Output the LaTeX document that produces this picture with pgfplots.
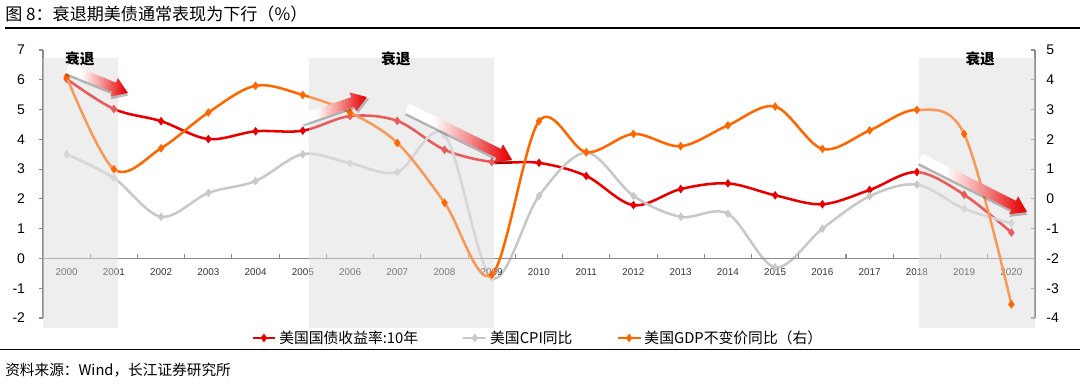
\documentclass[border=0pt]{standalone}
\usepackage{pgfplots}
\pgfplotsset{compat=1.18}
\usepackage{pgfplotstable}
\usepackage{fontspec}
\setmainfont{Liberation Sans}
\newfontfamily\cjk{Noto Sans CJK SC}
\definecolor{cred}{HTML}{E60000}
\definecolor{cgray}{HTML}{C8C8C8}
\definecolor{corange}{HTML}{FF6600}
\definecolor{cshade}{HTML}{EEEEEE}
\definecolor{caxis}{HTML}{8C8C8C}

\pgfplotstableread{
year yield cpi gdp
2000 6.03 3.50 4.10
2001 5.02 2.70 1.00
2002 4.61 1.40 1.70
2003 4.01 2.20 2.90
2004 4.27 2.60 3.80
2005 4.29 3.50 3.49
2006 4.78 3.20 2.90
2007 4.62 2.90 1.88
2008 3.65 4.15 -0.13
2009 3.24 -0.65 -2.55
2010 3.21 2.10 2.61
2011 2.77 3.55 1.57
2012 1.79 2.10 2.18
2013 2.33 1.40 1.77
2014 2.52 1.50 2.47
2015 2.12 -0.30 3.10
2016 1.82 1.00 1.68
2017 2.30 2.09 2.30
2018 2.90 2.48 2.99
2019 2.14 1.67 2.18
2020 0.87 1.18 -3.54
}\data

\pgfdeclarehorizontalshading{arrowshade}{100bp}{color(0bp)=(white); color(25bp)=(white); color(38bp)=(white); color(55bp)=(cred!45); color(70bp)=(cred!90); color(75bp)=(cred); color(100bp)=(cred)}

\newcommand{\arrowpath}[1]{(0pt,-3.75pt) -- (#1-11.25pt,-3.75pt) -- (#1-11.25pt,-7.5pt) -- (#1,0pt) -- (#1-11.25pt,7.5pt) -- (#1-11.25pt,3.75pt) -- (0pt,3.75pt) -- cycle}
% tail x, tail y (pt, page), angle, length
\newcommand{\shadearrow}[4]{%
  \begin{scope}[shift={(#1,#2)}, rotate=#3]
    \begin{scope}[shift={(1pt,-1.8pt)}]
      \fill[black, opacity=0.25] \arrowpath{#4};
    \end{scope}
    \shade[shading=arrowshade] \arrowpath{#4};
  \end{scope}}

\pgfplotsset{
  common/.style={
    scale only axis, width=744pt, height=201pt,
    at={(32.25pt,50.25pt)}, anchor=south west,
    xmin=1999.5, xmax=2020.5, clip=false,
    axis line style={caxis, line width=0.9pt},
    tick style={caxis, line width=0.8pt},
    yticklabel style={font=\fontsize{10.5}{12}\selectfont},
    /pgf/number format/assume math mode=true,
    /pgf/number format/1000 sep={},
  },
  ser/.style={#1, line width=1.9pt, smooth, tension=0.55, mark=diamond*, mark size=1.7pt, mark options={solid, fill=#1}},
}

\begin{document}
\begin{tikzpicture}
\path[use as bounding box] (0,0) rectangle (810pt,288.75pt);

\begin{axis}[common, axis on top,
  ymin=-2, ymax=7, ytick={-2,...,7},
  axis x line*=middle, axis y line*=left,
  xtick={2000,...,2020}, major x tick style={draw=none},
  minor xtick={2000.5,2001.5,...,2019.5}, minor tick length=3pt,
  xtick align=inside,
  ytick align=outside, major tick length=3pt,
  xticklabel style={font=\fontsize{7.4}{9}\selectfont, color=black!80, yshift=-4pt},
  yticklabel style={xshift=-7pt},
  legend columns=3,
  legend style={at={(0.2097,-0.0746)}, anchor=west, draw=none, fill=none, inner sep=0pt,
    font=\cjk\fontsize{11.1}{13}\selectfont,
    /tikz/every even column/.append style={column sep=31pt}},
  legend image post style={mark size=1.7pt},
]
\fill[cshade] (axis cs:1999.5,-2.32) rectangle (axis cs:2001.08,6.74);
\fill[cshade] (axis cs:2005.13,-2.32) rectangle (axis cs:2009.05,6.74);
\fill[cshade] (axis cs:2018.05,-2.32) rectangle (axis cs:2020.5,6.74);
\addplot[ser=cred] table[x=year, y=yield] {\data};
\addlegendentry{美国国债收益率:10年}
\addplot[ser=cgray] table[x=year, y=cpi] {\data};
\addlegendentry{美国CPI同比}
\addlegendimage{ser=corange}
\addlegendentry{美国GDP不变价同比（右）}
\end{axis}

\begin{axis}[common,
  ymin=-4, ymax=5, ytick={-4,...,5},
  axis x line=none, axis y line*=right,
  ytick align=inside, major tick length=3pt,
  yticklabel style={xshift=5pt},
]
\addplot[ser=corange] table[x=year, y=gdp] {\data};
\fill[cshade, opacity=0.38] (axis cs:1999.5,-4.32) rectangle (axis cs:2001.08,4.74);
\fill[cshade, opacity=0.38] (axis cs:2005.13,-4.32) rectangle (axis cs:2009.05,4.74);
\fill[cshade, opacity=0.38] (axis cs:2018.05,-4.32) rectangle (axis cs:2020.5,4.74);
\node[font=\cjk\bfseries\fontsize{11}{13}\selectfont] at (axis cs:2000.28,4.71) {衰退};
\node[font=\cjk\bfseries\fontsize{11}{13}\selectfont] at (axis cs:2006.97,4.71) {衰退};
\node[font=\cjk\bfseries\fontsize{11}{13}\selectfont] at (axis cs:2019.34,4.71) {衰退};
\end{axis}

\shadearrow{50.25pt}{237.75pt}{-22.3}{49.4pt}
\shadearrow{225pt}{198.75pt}{18.9}{53.1pt}
\shadearrow{305.25pt}{207.75pt}{-26.3}{87.9pt}
\shadearrow{690pt}{170.25pt}{-26.8}{89.9pt}

\node[anchor=west, font=\cjk\fontsize{12.8}{15}\selectfont, inner sep=0pt] at (3.75pt,278.5pt) {图 8：衰退期美债通常表现为下行（\%）};
\draw[black, line width=1.1pt] (3.75pt,267.75pt) -- (810pt,267.75pt);
\draw[black, line width=0.7pt] (0pt,27pt) -- (810pt,27pt);
\node[anchor=west, font=\cjk\fontsize{11}{13}\selectfont, inner sep=0pt] at (3.75pt,11.25pt) {资料来源：Wind，长江证券研究所};
\end{tikzpicture}
\end{document}
